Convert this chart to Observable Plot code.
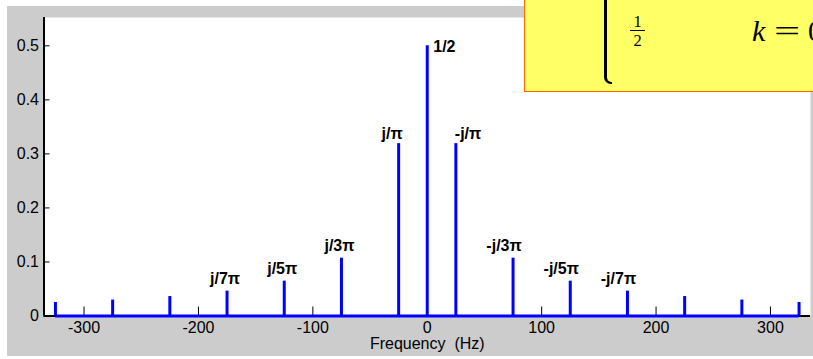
<!DOCTYPE html>
<html>
<head>
<meta charset="utf-8">
<script src="https://cdn.jsdelivr.net/npm/d3@7"></script>
<script src="https://cdn.jsdelivr.net/npm/@observablehq/plot@0.6"></script>
<style>
html, body { margin: 0; padding: 0; background: #ffffff; }
#wrap { position: relative; width: 813px; height: 359px; overflow: hidden; background: #ffffff; }
#chart { position: absolute; left: 7px; top: 6px; }
#chart svg { display: block; }
svg text { white-space: pre; }
#box {
  position: absolute; left: 524px; top: -2px; width: 320px; height: 94px;
  box-sizing: border-box; background: #ffff66; border: 1px solid #ff6600;
  font-family: "Liberation Serif", "Times New Roman", serif; color: #000;
}
#box .brace { position: absolute; left: 79px; top: -8px; width: 8px; height: 93px;
  border-left: 3px solid #000; border-bottom: 2px solid #000; border-bottom-left-radius: 7px; box-sizing: border-box; }
#box .num, #box .den { position: absolute; left: 105px; width: 15px; text-align: center; font-size: 16.5px; line-height: 19px; }
#box .num { top: 13px; }
#box .den { top: 31.5px; }
#box .bar { position: absolute; left: 105px; top: 31px; width: 15px; border-top: 1.5px solid #000; }
#box .k { position: absolute; left: 227px; top: 17px; font-size: 30px; line-height: 30px; font-style: italic; }
#box .eq { position: absolute; left: 249px; top: 17px; font-size: 29px; line-height: 30px; display: inline-block; transform: scaleX(1.6); transform-origin: left center; }
#box .zero { position: absolute; left: 283px; top: 17px; font-size: 29px; line-height: 30px; }
</style>
</head>
<body>
<div id="wrap">
  <div id="chart"></div>
  <div id="box">
    <div class="brace"></div>
    <div class="num">1</div>
    <div class="bar"></div>
    <div class="den">2</div>
    <span class="k">k</span><span class="eq">=</span><span class="zero">0</span>
  </div>
</div>
<script>
// ---- data ----
const freqHz    = [-325, -275, -225, -175, -125, -75, -25, 0, 25, 75, 125, 175, 225, 275, 325];
const magnitude = [0.0250, 0.0295, 0.0360, 0.0460, 0.0645, 0.1070, 0.3190, 0.5000, 0.3190, 0.1070, 0.0645, 0.0460, 0.0360, 0.0295, 0.0250];
const lineLabels = ["", "", "", "j/7π", "j/5π", "j/3π", "j/π", "1/2", "-j/π", "-j/3π", "-j/5π", "-j/7π", "", "", ""];
const xTicks = [-300, -200, -100, 0, 100, 200, 300];
const yTicks = [0, 0.1, 0.2, 0.3, 0.4, 0.5];
const xDomain = [-335, 335];
const yDomain = [0, 0.5524];
const xLabel = "Frequency  (Hz)";

// ---- layout ----
const W = 806, H = 350;
const M = {top: 11, right: 3, bottom: 40.5, left: 36.5};
const innerW = W - M.left - M.right;
const innerH = H - M.top - M.bottom;

const data = freqHz.map((f, i) => ({f, m: magnitude[i], label: lineLabels[i]}));
const BLUE = "#0000ff";
const labelFont = {fontSize: 16, fontWeight: "bold", fill: "black", ariaLabel: "line labels"};

const harm = data.filter(d => Math.abs(d.f) > 25 && d.label);

const chart = Plot.plot({
  width: W, height: H,
  marginTop: M.top, marginRight: M.right, marginBottom: M.bottom, marginLeft: M.left,
  x: {domain: xDomain},
  y: {domain: yDomain},
  style: {background: "#cccccc", fontFamily: "'Liberation Sans', Arial, sans-serif", fontSize: "16px", color: "black"},
  marks: [
    Plot.frame({fill: "white", stroke: "none"}),
    Plot.ruleY([0], {stroke: "black", strokeWidth: 2}),
    Plot.tickX(xTicks, {x: d => d, insetTop: innerH - 9, stroke: "black", strokeWidth: 1}),
    Plot.tickY(yTicks, {y: d => d, insetRight: innerW - 6, stroke: "black", strokeWidth: 1}),
    Plot.ruleY([0], {x1: d3.min(freqHz), x2: d3.max(freqHz), stroke: BLUE, strokeWidth: 3}),
    Plot.ruleX(data, {x: "f", y1: 0, y2: "m", stroke: BLUE, strokeWidth: 3}),
    Plot.ruleX([xDomain[0]], {stroke: "black", strokeWidth: 2}),
    Plot.axisX({ticks: xTicks, tickSize: 0, tickPadding: 6, tickFormat: d => String(d), label: null, fontSize: 16}),
    Plot.axisY({ticks: yTicks, tickSize: 0, tickPadding: 5, tickFormat: d => String(d), label: null, fontSize: 16}),
    Plot.text([xLabel], {text: d => d, frameAnchor: "bottom", lineAnchor: "middle", dy: 28, fontSize: 16, ariaLabel: "x label"}),
    Plot.text(harm.filter(d => !d.label.startsWith("-")), {x: "f", y: "m", text: "label", textAnchor: "middle", dx: -2, dy: -12, ...labelFont}),
    Plot.text(harm.filter(d => d.label.startsWith("-")), {x: "f", y: "m", text: "label", textAnchor: "middle", dx: -9, dy: -12, ...labelFont}),
    Plot.text(data.filter(d => d.f === -25), {x: "f", y: "m", text: "label", textAnchor: "end", dx: 4, dy: -10, ...labelFont}),
    Plot.text(data.filter(d => d.f === 25), {x: "f", y: "m", text: "label", textAnchor: "start", dx: -1, dy: -10, ...labelFont}),
    Plot.text(data.filter(d => d.f === 0), {x: "f", y: "m", text: "label", textAnchor: "start", dx: 6, dy: 1.5, ...labelFont})
  ]
});

d3.select(chart).selectAll('g[aria-label="line labels"] text').style("letter-spacing", "0.6px");
d3.select(chart).selectAll('g[aria-label="x label"] text').style("letter-spacing", "0.7px");
document.getElementById("chart").appendChild(chart);
</script>
</body>
</html>
